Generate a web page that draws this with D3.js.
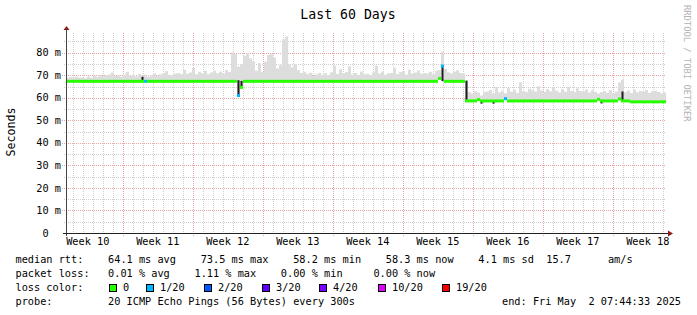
<!DOCTYPE html>
<html>
<head>
<meta charset="utf-8">
<script src="https://cdn.jsdelivr.net/npm/d3@7/dist/d3.min.js"></script>
<style>
	body { margin: 0; background: #fff; }
	svg text { font-family: "DejaVu Sans Mono", monospace; fill: #000; }
</style>
</head>
<body>
<div class="chart"></div>
<script>
// time window of the graph
const startTime = new Date(2025, 2, 3, 7, 44, 33);
const endTime = new Date(2025, 4, 2, 7, 44, 33);
const binHours = 7.2;

// max ping per bin (ms)
const smokeHi = [
	68.8, 69.2, 68.9, 69.4, 69.0, 69.1, 68.7, 69.5, 69.0, 69.8, 69.3, 70.1, 69.6, 69.9, 70.4, 71.2, 69.7, 70.0, 69.4, 70.3,
	71.5, 69.8, 70.2, 69.5, 70.6, 69.9, 70.3, 69.4, 70.0, 70.8, 69.6, 70.4, 70.9, 71.8, 70.2, 69.9, 70.7, 71.0, 70.5, 72.4,
	70.6, 71.2, 73.2, 70.4, 71.5, 70.8, 71.9, 70.5, 71.2, 72.0, 70.9, 71.6, 70.7, 72.3, 71.4, 80.2, 79.5, 73.8, 74.5, 78.6,
	79.8, 77.5, 76.2, 72.0, 75.4, 71.5, 76.0, 79.0, 79.4, 77.8, 73.0, 74.5, 86.0, 87.2, 74.8, 73.5, 75.0, 72.2, 71.0, 71.5,
	70.5, 71.1, 69.8, 70.4, 71.0, 70.2, 70.9, 70.0, 71.3, 74.2, 70.6, 72.6, 70.8, 71.4, 74.0, 70.3, 71.0, 70.1, 71.6, 70.4,
	70.6, 70.1, 71.3, 74.3, 70.8, 71.6, 70.2, 70.9, 71.0, 73.2, 70.5, 71.4, 71.8, 70.3, 72.4, 70.7, 71.2, 72.1, 70.6, 71.0,
	70.8, 71.5, 70.4, 72.0, 72.3, 80.4, 72.8, 71.3, 70.9, 71.6, 72.2, 71.0, 70.7, 67.6, 62.5, 61.8, 62.9, 62.3, 61.0, 62.5,
	62.8, 63.5, 61.9, 64.8, 62.4, 63.1, 62.0, 64.2, 62.7, 63.6, 62.2, 66.9, 63.0, 62.5, 64.0, 63.4, 62.8, 65.1, 63.3, 62.6,
	63.8, 62.9, 64.5, 63.2, 62.4, 63.9, 62.7, 64.9, 63.1, 62.5, 64.2, 63.0, 62.8, 63.7, 62.3, 63.4, 62.6, 61.9, 62.5, 63.0,
	62.2, 63.4, 62.0, 62.7, 66.8, 68.0, 62.5, 63.3, 62.1, 63.6, 62.4, 63.0, 62.8, 63.5, 62.2, 62.9, 63.1, 62.6, 62.0, 62.4
];

// median rtt per bin (ms)
const median = [
	67.3, 67.3, 67.3, 67.3, 67.3, 67.3, 67.3, 67.3, 67.3, 67.3, 67.3, 67.3, 67.3, 67.3, 67.3, 67.3, 67.3, 67.3, 67.3, 67.3,
	67.3, 67.3, 67.3, 67.3, 67.3, 67.3, 67.3, 67.3, 67.3, 67.3, 67.3, 67.3, 67.3, 67.3, 67.3, 67.3, 67.3, 67.3, 67.3, 67.3,
	67.3, 67.3, 67.3, 67.3, 67.3, 67.3, 67.3, 67.3, 67.3, 67.3, 67.3, 67.3, 67.3, 67.3, 67.3, 67.3, 67.3, 61.0, 64.6, 67.3,
	67.3, 67.3, 67.3, 67.3, 67.3, 67.3, 67.3, 67.3, 67.3, 67.3, 67.3, 67.3, 67.3, 67.3, 67.3, 67.3, 67.3, 67.3, 67.3, 67.3,
	67.3, 67.3, 67.3, 67.3, 67.3, 67.3, 67.3, 67.3, 67.3, 67.3, 67.3, 67.3, 67.3, 67.3, 67.3, 67.3, 67.3, 67.3, 67.3, 67.3,
	67.3, 67.3, 67.3, 67.3, 67.3, 67.3, 67.3, 67.3, 67.3, 67.3, 67.3, 67.3, 67.3, 67.3, 67.3, 67.3, 67.3, 67.3, 67.3, 67.3,
	67.3, 67.3, 67.3, 67.3, 68.6, 74.0, 67.3, 67.3, 67.3, 67.3, 67.3, 67.3, 67.3, 58.6, 58.6, 58.6, 58.6, 59.2, 58.6, 58.6,
	58.6, 58.6, 58.6, 58.6, 58.6, 58.6, 59.6, 58.6, 58.6, 58.6, 58.6, 58.6, 58.6, 58.6, 58.6, 58.6, 58.6, 58.6, 58.6, 58.6,
	58.6, 58.6, 58.6, 58.6, 58.6, 58.6, 58.6, 58.6, 58.6, 58.6, 58.6, 58.6, 58.6, 58.6, 58.6, 58.6, 58.6, 59.3, 58.6, 58.6,
	58.6, 58.6, 58.6, 58.6, 59.5, 58.6, 58.6, 58.6, 58.2, 58.2, 58.2, 58.2, 58.2, 58.2, 58.2, 58.2, 58.2, 58.2, 58.2, 58.2
];

// lost pings (of 20) per bin
const loss = [
	0, 0, 0, 0, 0, 0, 0, 0, 0, 0, 0, 0, 0, 0, 0, 0, 0, 0, 0, 0,
	0, 0, 0, 0, 0, 0, 1, 0, 0, 0, 0, 0, 0, 0, 0, 0, 0, 0, 0, 0,
	0, 0, 0, 0, 0, 0, 0, 0, 0, 0, 0, 0, 0, 0, 0, 0, 0, 1, 0, 0,
	0, 0, 0, 0, 0, 0, 0, 0, 0, 0, 0, 0, 0, 0, 0, 0, 0, 0, 0, 0,
	0, 0, 0, 0, 0, 0, 0, 0, 0, 0, 0, 0, 0, 0, 0, 0, 0, 0, 0, 0,
	0, 0, 0, 0, 0, 0, 0, 0, 0, 0, 0, 0, 0, 0, 0, 0, 0, 0, 0, 0,
	0, 0, 0, 0, 0, 1, 0, 0, 0, 0, 0, 0, 0, 0, 0, 0, 0, 0, 0, 0,
	0, 0, 0, 0, 0, 0, 1, 0, 0, 0, 0, 0, 0, 0, 0, 0, 0, 0, 0, 0,
	0, 0, 0, 0, 0, 0, 0, 0, 0, 0, 0, 0, 0, 0, 0, 0, 0, 0, 0, 0,
	0, 0, 0, 0, 0, 0, 0, 0, 0, 0, 0, 0, 0, 0, 0, 0, 0, 0, 0, 0
];

// dense smoke at the jumps: [bin, lo ms, hi ms]
const denseSmoke = [
	[25, 67.5, 69.3], [57, 61.0, 67.8], [58, 64.6, 67.5], [125, 67.4, 74.6],
	[133, 58.6, 67.6], [138, 57.4, 58.6], [142, 57.4, 58.6], [178, 57.5, 58.6], [185, 59.0, 62.8]
];

const yTicks = [0, 10, 20, 30, 40, 50, 60, 70, 80];
const yMinorTicks = [5, 15, 25, 35, 45, 55, 65, 75, 85];

const lossLevels = ['0', '1/20', '2/20', '3/20', '4/20', '10/20', '19/20'];
const lossColors = ['#26ff00', '#00b8ff', '#0059ff', '#5e00ff', '#7e00ff', '#dd00ff', '#ff0000'];
const lossBoxX = [109, 146, 204, 262, 319, 378, 442];

const legendLines = [
	'median rtt:    64.1 ms avg    73.5 ms max    58.2 ms min    58.3 ms now    4.1 ms sd  15.7      am/s',
	'packet loss:   0.01 % avg    1.11 % max    0.00 % min     0.00 % now',
	'loss color:',
	'probe:         20 ICMP Echo Pings (56 Bytes) every 300s'
];
const endStamp = 'end: Fri May  2 07:44:33 2025';

const width = 697;
const height = 315;
const plotLeft = 66, plotRight = 666, plotTop = 33, plotBottom = 233;

const svg = d3.select('.chart')
	.append('svg')
	.attr('width', width)
	.attr('height', height);

const x = d3.scaleTime().domain([startTime, endTime]).range([plotLeft, plotRight]);
const y = d3.scaleLinear().domain([0, 88.74]).range([plotBottom, plotTop]);

const binTime = i => new Date(startTime.getTime() + i * binHours * 3600e3);
const binX = i => x(binTime(i));
const binW = i => x(binTime(i + 1)) - x(binTime(i));

// grid
const grid = svg.append('g');
grid.selectAll('.vmin')
	.data(d3.timeDay.range(startTime, endTime))
	.enter().append('line')
	.attr('x1', d => Math.round(x(d)) + 0.5)
	.attr('x2', d => Math.round(x(d)) + 0.5)
	.attr('y1', plotTop)
	.attr('y2', plotBottom)
	.attr('stroke', '#cfcfcf')
	.attr('stroke-dasharray', '1,1');

grid.selectAll('.hmin')
	.data(yMinorTicks)
	.enter().append('line')
	.attr('x1', plotLeft - 2)
	.attr('x2', plotRight)
	.attr('y1', d => Math.round(y(d)) + 0.5)
	.attr('y2', d => Math.round(y(d)) + 0.5)
	.attr('stroke', '#cfcfcf')
	.attr('stroke-dasharray', '1,1');

grid.selectAll('.vmaj')
	.data(d3.timeSunday.range(startTime, endTime))
	.enter().append('line')
	.attr('x1', d => Math.round(x(d)) + 0.5)
	.attr('x2', d => Math.round(x(d)) + 0.5)
	.attr('y1', plotTop)
	.attr('y2', plotBottom + 4)
	.attr('stroke', '#eba5a5')
	.attr('stroke-dasharray', '1,1');

grid.selectAll('.hmaj')
	.data(yTicks.slice(1))
	.enter().append('line')
	.attr('x1', plotLeft - 4)
	.attr('x2', plotRight)
	.attr('y1', d => Math.round(y(d)) + 0.5)
	.attr('y2', d => Math.round(y(d)) + 0.5)
	.attr('stroke', '#eba5a5')
	.attr('stroke-dasharray', '1,1');

// smoke
svg.append('g').selectAll('rect')
	.data(smokeHi)
	.enter().append('rect')
	.attr('x', (d, i) => binX(i))
	.attr('width', (d, i) => binW(i))
	.attr('y', d => y(d))
	.attr('height', (d, i) => Math.max(0, y(median[i]) - y(d)))
	.attr('fill', '#dddddd');

svg.append('g').selectAll('rect')
	.data(denseSmoke)
	.enter().append('rect')
	.attr('x', d => binX(d[0]) + 0.5)
	.attr('width', 2)
	.attr('y', d => y(d[2]))
	.attr('height', d => y(d[1]) - y(d[2]))
	.attr('fill', '#1c1c1c');

// median, coloured by loss
svg.append('g').selectAll('rect')
	.data(median)
	.enter().append('rect')
	.attr('x', (d, i) => binX(i))
	.attr('width', (d, i) => binW(i))
	.attr('y', d => y(d) - 1.5)
	.attr('height', 3)
	.attr('fill', (d, i) => lossColors[loss[i]]);

// axes
svg.append('line')
	.attr('x1', plotLeft + 0.5).attr('x2', plotLeft + 0.5)
	.attr('y1', plotBottom + 3).attr('y2', plotTop - 4)
	.attr('stroke', '#444');
svg.append('line')
	.attr('x1', plotLeft - 3).attr('x2', plotRight + 3)
	.attr('y1', plotBottom + 0.5).attr('y2', plotBottom + 0.5)
	.attr('stroke', '#222');
svg.append('path')
	.attr('d', `M${plotLeft - 2.5},${plotTop - 3}L${plotLeft + 3.5},${plotTop - 3}L${plotLeft + 0.5},${plotTop - 7}Z`)
	.attr('fill', '#8b1c1c');
svg.append('path')
	.attr('d', `M${plotRight + 2},${plotBottom - 2.5}L${plotRight + 2},${plotBottom + 3.5}L${plotRight + 7},${plotBottom + 0.5}Z`)
	.attr('fill', '#8b1c1c');

// y tick labels
svg.append('g').selectAll('text')
	.data(yTicks)
	.enter().append('text')
	.attr('x', 61)
	.attr('y', d => y(d) + 3.6)
	.attr('text-anchor', 'end')
	.style('font-size', '10.25px')
	.text(d => d === 0 ? '0\u00a0\u00a0' : `${d} m`);

// week labels
const weekCenters = d3.timeSunday.range(d3.timeSunday.floor(startTime), endTime)
	.map(d => d3.timeHour.offset(d, 84))
	.filter(d => d < endTime);
svg.append('g').selectAll('text')
	.data(weekCenters)
	.enter().append('text')
	.attr('x', d => x(d))
	.attr('y', 245)
	.attr('text-anchor', 'middle')
	.style('font-size', '10.25px')
	.text(d => `Week ${d3.timeFormat('%V')(d)}`);

// titles
svg.append('text')
	.attr('x', 348)
	.attr('y', 18.5)
	.attr('text-anchor', 'middle')
	.style('font-size', '13.2px')
	.text('Last 60 Days');

svg.append('text')
	.attr('transform', 'translate(15,132) rotate(-90)')
	.attr('text-anchor', 'middle')
	.style('font-size', '11.6px')
	.text('Seconds');

svg.append('text')
	.attr('transform', 'translate(684,5) rotate(90)')
	.style('font-size', '8.8px')
	.style('fill', '#b4b4b4')
	.text('RRDTOOL / TOBI OETIKER');

// legend
svg.append('g').selectAll('text')
	.data(legendLines)
	.enter().append('text')
	.attr('x', 15.5)
	.attr('y', (d, i) => 263.3 + i * 13.9)
	.attr('xml:space', 'preserve')
	.style('white-space', 'pre')
	.style('font-size', '10.25px')
	.text(d => d);

svg.append('text')
	.attr('x', 681)
	.attr('y', 263.3 + 3 * 13.9)
	.attr('text-anchor', 'end')
	.attr('xml:space', 'preserve')
	.style('white-space', 'pre')
	.style('font-size', '10.25px')
	.text(endStamp);

const lossLegend = svg.append('g').selectAll('g')
	.data(lossLevels)
	.enter().append('g');
lossLegend.append('rect')
	.attr('x', (d, i) => lossBoxX[i] + 0.5)
	.attr('y', 284.5)
	.attr('width', 7)
	.attr('height', 7)
	.attr('fill', (d, i) => lossColors[i])
	.attr('stroke', '#000');
lossLegend.append('text')
	.attr('x', (d, i) => lossBoxX[i] + 14)
	.attr('y', 263.3 + 2 * 13.9)
	.style('font-size', '10.25px')
	.text(d => d);
</script>
</body>
</html>
